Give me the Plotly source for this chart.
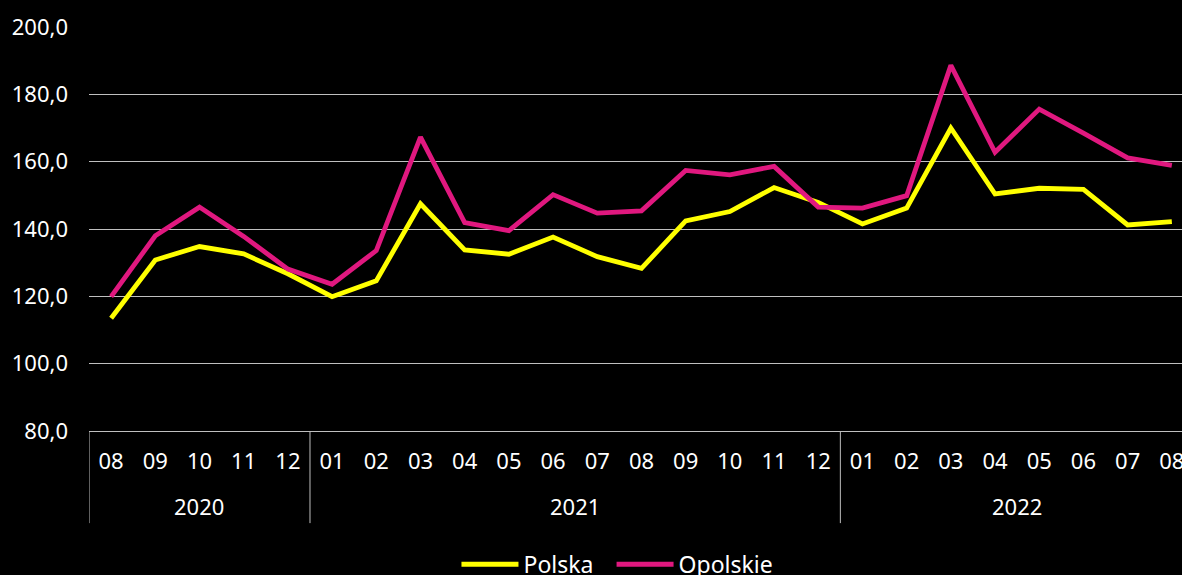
import plotly.graph_objects as go

months = ["08", "09", "10", "11", "12",
          "01", "02", "03", "04", "05", "06", "07", "08", "09", "10", "11", "12",
          "01", "02", "03", "04", "05", "06", "07", "08"]
years = ["2020", "2021", "2022"]
year_counts = [5, 12, 8]

polska = [113.5, 130.8, 134.8, 132.6, 126.7, 119.9, 124.6, 147.5, 133.8, 132.5, 137.6,
          131.8, 128.3, 142.4, 145.2, 152.3, 147.9, 141.5, 146.2, 170.0, 150.4, 152.1,
          151.8, 141.2, 142.2]
opolskie = [119.9, 138.0, 146.5, 137.8, 128.1, 123.6, 133.6, 167.3, 141.9, 139.5, 150.2,
            144.7, 145.4, 157.4, 156.1, 158.6, 146.5, 146.2, 149.9, 188.6, 162.8, 175.6,
            168.5, 161.1, 158.9]

FONT = "Noto Sans"
GRID = "#bfbfbf"
x = list(range(len(months)))

fig = go.Figure()
fig.add_trace(go.Scatter(x=x, y=polska, mode="lines", name="Polska", legend="legend",
                         line=dict(color="#FFFF00", width=4.8)))
fig.add_trace(go.Scatter(x=x, y=opolskie, mode="lines", name="Opolskie", legend="legend2",
                         line=dict(color="#E0187F", width=4.8)))

# year group dividers and labels
start = 0
bounds = [-0.5]
for yr, n in zip(years, year_counts):
    end = start + n - 1
    fig.add_annotation(x=(start + end) / 2, y=-0.185, xref="x", yref="paper",
                       text=yr, showarrow=False, yanchor="middle",
                       font=dict(family=FONT, size=22, color="white"))
    bounds.append(end + 0.5)
    start = end + 1
for b in bounds:
    fig.add_shape(type="line", xref="x", yref="paper", x0=b, x1=b, y0=0, y1=-0.228,
                  line=dict(color=GRID, width=1))

leg_common = dict(orientation="h", y=-0.33, yanchor="middle", xanchor="left",
                  itemwidth=57, font=dict(family=FONT, size=23, color="white"),
                  bgcolor="rgba(0,0,0,0)")

fig.update_layout(
    width=1182, height=575,
    paper_bgcolor="black", plot_bgcolor="black",
    margin=dict(l=89, r=0, t=27, b=144, autoexpand=False),
    separators=", ",
    font=dict(family=FONT, size=22, color="white"),
    showlegend=True,
    legend=dict(x=0.3362, **leg_common),
    legend2=dict(x=0.4781, **leg_common),
    xaxis=dict(range=[-0.5, 24.23], tickmode="array", tickvals=x, ticktext=months,
               showgrid=False, zeroline=False, showline=True, linecolor=GRID, linewidth=1,
               ticks="outside", ticklen=11, tickcolor="rgba(0,0,0,0)",
               ticklabeloverflow="allow",
               tickfont=dict(family=FONT, size=22, color="white")),
    yaxis=dict(range=[80, 200], tickmode="array", tickvals=[80, 100, 120, 140, 160, 180, 200],
               tickformat=".1f", showgrid=True, gridcolor=GRID, gridwidth=1,
               zeroline=False, showline=False, ticks="", ticklabelstandoff=20,
               tickfont=dict(family=FONT, size=22, color="white")),
)

fig.write_html("out.html", config={"displayModeBar": False},
               post_script="document.body.style.margin='0';document.body.style.background='black';")
